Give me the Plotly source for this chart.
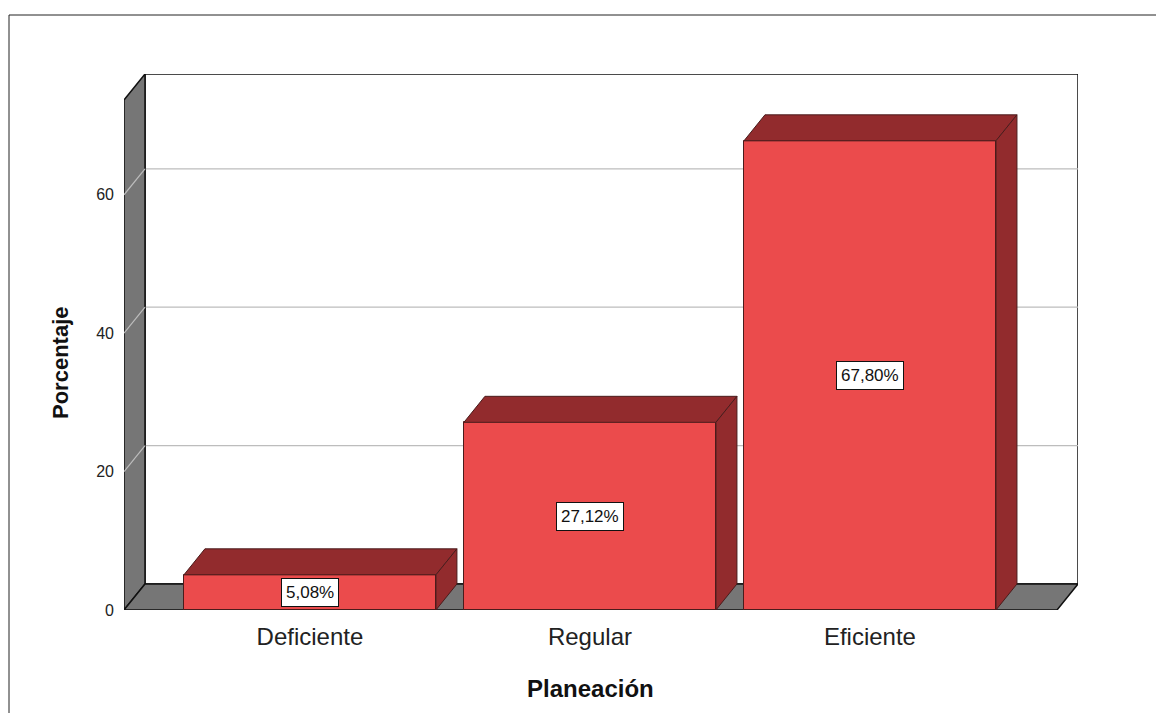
import plotly.graph_objects as go

categories = ["Deficiente", "Regular", "Eficiente"]
values = [5.08, 27.12, 67.80]
labels = ["5,08%", "27,12%", "67,80%"]
y_ticks = [0, 20, 40, 60]
x_title = "Planeación"
y_title = "Porcentaje"

FRONT = "#EB4B4C"
DARK = "#922B2D"
EDGE = "#4a1c1c"
WALL = "#767676"
GRID = "#BDBDBD"

BW = 0.9        # bar width (category units)
DX = 0.075      # depth offset x (category units)
DY = 3.76       # depth offset y (value units)
XL, XR = -0.664, 2.668   # front plane x extent
WALL_TOP = 73.7

xs = list(range(len(categories)))

OFF = 8  # page body margin
FW, FH = 1164 - OFF, 713 - OFF
L, T, W, H = 124 - OFF, 74 - OFF, 954, 536


def px(xp):  # page pixel -> paper x
    return (xp - OFF - L) / W


def py(yp):  # page pixel -> paper y
    return (T + H - (yp - OFF)) / H


fig = go.Figure()

# Back wall, left wall, floor
fig.add_shape(type="rect", x0=XL + DX, x1=XR + DX, y0=DY, y1=WALL_TOP + DY,
              xref="x", yref="y", line=dict(color="#111", width=1.5),
              fillcolor="white", layer="below")
for v in y_ticks[1:]:
    fig.add_shape(type="line", x0=XL + DX, x1=XR + DX, y0=v + DY, y1=v + DY,
                  xref="x", yref="y", line=dict(color=GRID, width=1.2), layer="below")
fig.add_shape(type="path",
              path=f"M {XL},0 L {XL},{WALL_TOP} L {XL+DX},{WALL_TOP+DY} L {XL+DX},{DY} Z",
              xref="x", yref="y", fillcolor=WALL, line=dict(color="#111", width=1.5), layer="below")
fig.add_shape(type="path",
              path=f"M {XL},0 L {XR},0 L {XR+DX},{DY} L {XL+DX},{DY} Z",
              xref="x", yref="y", fillcolor=WALL, line=dict(color="#111", width=1.5), layer="below")
for v in y_ticks[1:]:
    fig.add_shape(type="line", x0=XL, x1=XL + DX, y0=v, y1=v + DY,
                  xref="x", yref="y", line=dict(color=GRID, width=1.2), layer="below")

# Front faces
fig.add_trace(go.Bar(x=xs, y=values, width=BW, marker=dict(color=FRONT, line=dict(color=EDGE, width=1)),
                     hoverinfo="skip", showlegend=False))

# Top and side faces
for x, v in zip(xs, values):
    a, b = x - BW / 2, x + BW / 2
    fig.add_trace(go.Scatter(x=[a, a + DX, b + DX, b, a], y=[v, v + DY, v + DY, v, v],
                             fill="toself", fillcolor=DARK, mode="lines",
                             line=dict(color=EDGE, width=1), hoverinfo="skip", showlegend=False))
    fig.add_trace(go.Scatter(x=[b, b, b + DX, b + DX, b], y=[0, v, v + DY, DY, 0],
                             fill="toself", fillcolor=DARK, mode="lines",
                             line=dict(color=EDGE, width=1), hoverinfo="skip", showlegend=False))

# Value labels
for x, v, t in zip(xs, values, labels):
    fig.add_annotation(x=x, y=v / 2, text=t, showarrow=False, xref="x", yref="y",
                       xanchor="center", yanchor="middle",
                       font=dict(family="Liberation Sans, Arial", size=17, color="#111"),
                       bgcolor="white", bordercolor="#111", borderwidth=1, borderpad=4)

# Axis titles
fig.add_annotation(x=px(590), y=py(688), xref="paper", yref="paper", text=x_title, showarrow=False,
                   xanchor="center", yanchor="middle",
                   font=dict(family="Liberation Sans, Arial", size=24, color="#111", weight="bold"))
fig.add_annotation(x=px(60), y=py(363), xref="paper", yref="paper", text=y_title, showarrow=False,
                   xanchor="center", yanchor="middle", textangle=-90,
                   font=dict(family="Liberation Sans, Arial", size=22, color="#111", weight="bold"))

# Outer frame (top and left edges)
fig.add_shape(type="path", xref="paper", yref="paper",
              path=f"M {px(9)},{py(713)} L {px(9)},{py(15)} L {px(1164)},{py(15)}",
              line=dict(color="#222", width=1))

fig.update_layout(
    width=FW, height=FH, autosize=False,
    margin=dict(l=L, r=FW - L - W, t=T, b=FH - T - H),
    paper_bgcolor="white", plot_bgcolor="white",
    bargap=0,
    xaxis=dict(range=[XL, XR + DX], tickvals=xs, ticktext=categories, showgrid=False,
               zeroline=False, showline=False, ticks="", fixedrange=True, ticklabelstandoff=10,
               tickfont=dict(family="Liberation Sans, Arial", size=24, color="#222")),
    yaxis=dict(range=[0, WALL_TOP + DY], tickvals=y_ticks, showgrid=False, zeroline=False,
               showline=False, ticks="", fixedrange=True, ticklabelstandoff=9,
               tickfont=dict(family="Liberation Sans, Arial", size=16, color="#222")),
)

fig.write_html("out.html", config={"displayModeBar": False})
